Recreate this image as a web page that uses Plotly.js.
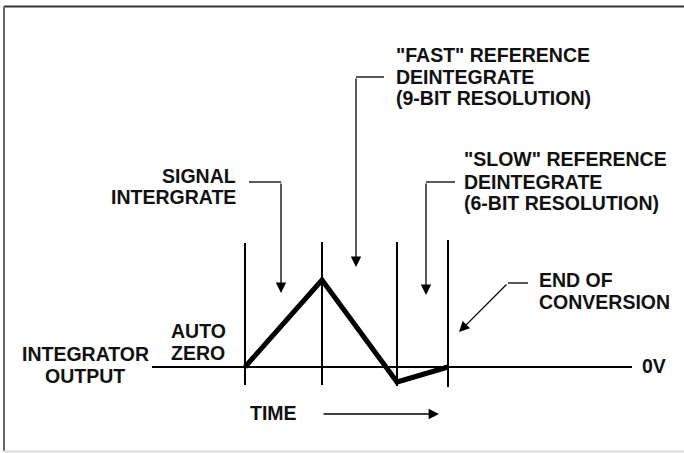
<!DOCTYPE html>
<html>
<head>
<meta charset="utf-8">
<script src="https://cdn.plot.ly/plotly-3.0.1.min.js"></script>
<style>html,body{margin:0;padding:0;background:#fff;}#chart{width:684px;height:453px;}</style>
</head>
<body>
<div id="chart"></div>
<script>
// Integrator waveform (time position, output level relative to 0V)
const waveTime = [245, 322, 397, 448];
const waveLevel = [0, 87, -15, 0];
// Phase boundary markers
const phaseX = [245, 322, 397, 448];
const phaseTop = [124, 125, 125, 127];
const phaseBottom = [-18, -18, -19, -20];
// Zero line
const zeroLineX = [152, 632];
// Text labels
const labelLines = ['"FAST" REFERENCE', 'DEINTEGRATE', '(9-BIT RESOLUTION)',
                    '"SLOW" REFERENCE', 'DEINTEGRATE', '(6-BIT RESOLUTION)',
                    'SIGNAL', 'INTERGRATE',
                    'END OF', 'CONVERSION',
                    'AUTO', 'ZERO',
                    'INTEGRATOR', 'OUTPUT',
                    '0V', 'TIME'];
const labelX = [394, 394, 394, 462, 462, 462, 238, 238, 537, 537, 198, 198, 85, 85, 640, 273];
const labelY = [312, 290, 269, 208, 185, 164, 191, 170, 87, 65, 36, 14, 13, -9, 1, -46];
const labelAnchor = ['left','left','left','left','left','left','right','right','left','left','center','center','center','center','left','center'];
// Callout arrows: elbow start, corner, tip
const calloutStartX = [249, 384, 455, 528, 322];
const calloutStartY = [185, 290, 185, 84, -47];
const calloutCornerX = [281, 356, 426, 508, 322];
const calloutCornerY = [185, 290, 185, 84, -47];
const calloutTipX = [281, 356, 426, 459, 439];
const calloutTipY = [74, 100, 72, 35, -47];

const shapes = [];
const annotations = [];
const blk = '#000';
// frame
shapes.push({type:'line', xref:'paper', yref:'paper', x0:4/684, x1:1, y0:1-6.5/453, y1:1-6.5/453, line:{color:'#333', width:2}});
shapes.push({type:'line', xref:'paper', yref:'paper', x0:4/684, x1:4/684, y0:1-6.5/453, y1:1-451/453, line:{color:'#666', width:2}});
shapes.push({type:'line', xref:'paper', yref:'paper', x0:4/684, x1:1, y0:1-451.5/453, y1:1-451.5/453, line:{color:'#ddd', width:2}});
// zero line
shapes.push({type:'line', x0:zeroLineX[0], x1:zeroLineX[1], y0:0, y1:0, line:{color:blk, width:2.2}});
// phase markers
for (let i = 0; i < phaseX.length; i++) {
  shapes.push({type:'line', x0:phaseX[i], x1:phaseX[i], y0:phaseBottom[i], y1:phaseTop[i], line:{color:blk, width:2}});
}
// callouts
for (let i = 0; i < calloutStartX.length; i++) {
  if (calloutStartX[i] !== calloutCornerX[i]) {
    shapes.push({type:'line', x0:calloutStartX[i], x1:calloutCornerX[i], y0:calloutStartY[i], y1:calloutCornerY[i], line:{color:blk, width:1.3}});
  }
  annotations.push({x:calloutTipX[i], y:calloutTipY[i], ax:calloutCornerX[i], ay:calloutCornerY[i],
    xref:'x', yref:'y', axref:'x', ayref:'y', text:'', showarrow:true,
    arrowhead:2, arrowsize:1.6, arrowwidth:1.3, arrowcolor:blk, standoff:0});
}
for (let i = 0; i < labelLines.length; i++) {
  annotations.push({x:labelX[i], y:labelY[i], xref:'x', yref:'y', text:labelLines[i], showarrow:false,
    xanchor:labelAnchor[i], yanchor:'middle',
    font:{family:'Liberation Sans, Arial, sans-serif', size:19.5, color:'#111', weight:'bold'}});
}

const trace = {x:waveTime, y:waveLevel, type:'scatter', mode:'lines',
  line:{color:blk, width:5, shape:'linear'}, hoverinfo:'skip'};

const layout = {
  width:684, height:453,
  margin:{l:0, r:0, t:0, b:0},
  paper_bgcolor:'#fff', plot_bgcolor:'#fff',
  showlegend:false,
  xaxis:{range:[0,684], visible:false, fixedrange:true},
  yaxis:{range:[-86,367], visible:false, fixedrange:true},
  shapes:shapes, annotations:annotations
};
Plotly.newPlot('chart', [trace], layout, {staticPlot:true, displayModeBar:false});
</script>
</body>
</html>
